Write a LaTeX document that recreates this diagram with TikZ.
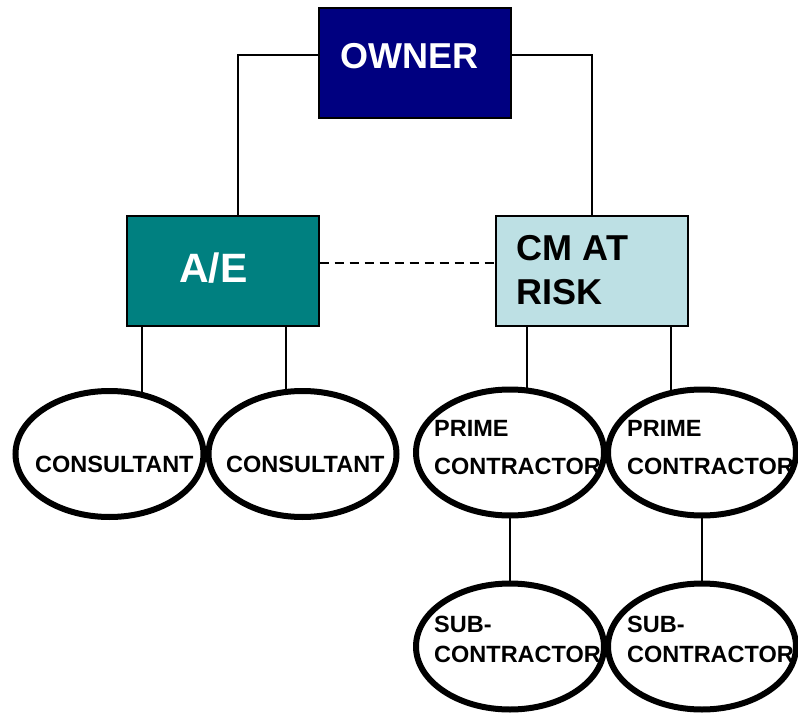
\documentclass[tikz,border=0pt]{standalone}
\usepackage{fontspec}
\setmainfont{Liberation Sans}
\usetikzlibrary{shapes.geometric,backgrounds}
\definecolor{ownerblue}{RGB}{0,0,128}
\definecolor{aeteal}{RGB}{0,128,128}
\definecolor{cmblue}{RGB}{189,224,228}
\begin{document}
\begin{tikzpicture}[x=1pt,y=-1pt]
		\tikzstyle{box}=[rectangle, draw=black, line width=2pt, minimum width=192pt, minimum height=110pt, inner sep=0pt]
		\tikzstyle{oval}=[ellipse, draw=black, line width=6pt, fill=white, minimum width=188pt, minimum height=126pt, inner sep=0pt]
		\tikzstyle{big}=[font=\fontsize{36}{44}\selectfont\bfseries, inner sep=0pt, anchor=base west, align=left]
		\tikzstyle{small}=[font=\fontsize{23.5}{38}\selectfont\bfseries, inner sep=0pt, anchor=base west, align=left]
		\tikzstyle{connect}=[line width=1.6pt]
		\useasboundingbox (0,0) rectangle (798,714);
		% boxes
		\node[box, fill=ownerblue] (owner) at (415,63) {};
		\node[box, fill=aeteal] (ae) at (222.5,271) {};
		\node[box, fill=cmblue] (cm) at (592,271) {};
		\node[big, text=white] (ownertext) at (340,69) {OWNER};
		\node[big, text=white, font=\fontsize{41}{44}\selectfont\bfseries] (aetext) at (179,282) {A/E};
		\node[big] (cmtext) at (516.5,305) {CM AT\\RISK};
		% ovals
		\node[oval] (c1) at (109.5,454) {};
		\node[oval] (c2) at (302.5,454) {};
		\node[oval] (p1) at (510,452.5) {};
		\node[oval] (p2) at (702,452.5) {};
		\node[oval] (s1) at (510,646.5) {};
		\node[oval] (s2) at (702,646.5) {};
		\node[small] (c1text) at (35,472) {CONSULTANT};
		\node[small] (c2text) at (226,472) {CONSULTANT};
		\node[small] (p1text) at (434,474) {PRIME\\CONTRACTOR};
		\node[small] (p2text) at (627,474) {PRIME\\CONTRACTOR};
		\node[small, font=\fontsize{23.5}{30}\selectfont\bfseries] (s1text) at (434,662) {SUB-\\CONTRACTOR};
		\node[small, font=\fontsize{23.5}{30}\selectfont\bfseries] (s2text) at (627,662) {SUB-\\CONTRACTOR};
		% connectors
		\begin{scope}[on background layer]
		\draw[connect] ([yshift=8pt]owner.west) -| ([xshift=15.5pt]ae.north);
		\draw[connect] ([yshift=8pt]owner.east) -| (cm.north);
		\draw[connect, dash pattern=on 9pt off 6pt] ([yshift=8pt]ae.east) -- ([yshift=8pt]cm.west);
		\draw[connect] ([xshift=-80.5pt]ae.south) -- ([xshift=-80.5pt]ae.south |- c1.center);
		\draw[connect] ([xshift=63.5pt]ae.south) -- ([xshift=63.5pt]ae.south |- c2.center);
		\draw[connect] ([xshift=-65pt]cm.south) -- ([xshift=-65pt]cm.south |- p1.center);
		\draw[connect] ([xshift=79pt]cm.south) -- ([xshift=79pt]cm.south |- p2.center);
		\draw[connect] (p1.center) -- (s1.center);
		\draw[connect] (p2.center) -- (s2.center);
		\end{scope}
\end{tikzpicture}
\end{document}
